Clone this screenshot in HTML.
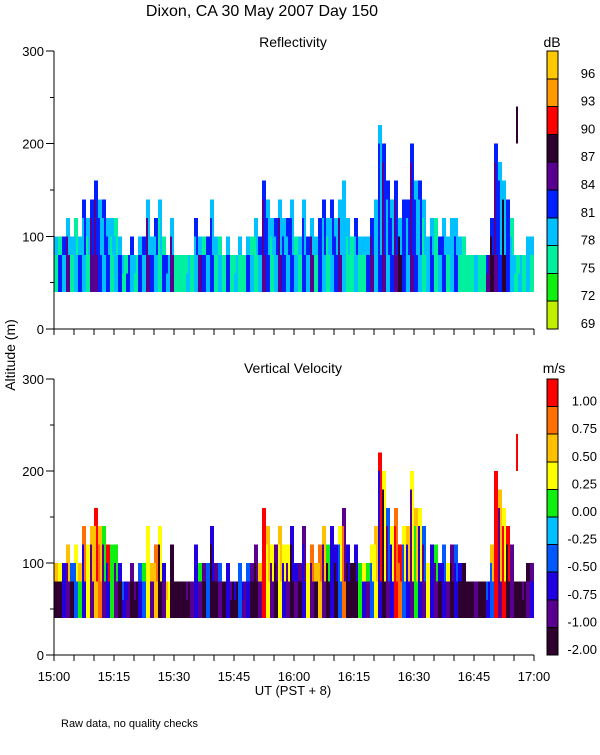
<!DOCTYPE html>
<html><head><meta charset="utf-8"><style>
body{margin:0;background:#fff}
svg text{font-family:"Liberation Sans",sans-serif;fill:#000}
</style></head><body>
<svg id="chart" width="600" height="750" xmlns="http://www.w3.org/2000/svg" shape-rendering="crispEdges">
<text x="262" y="16" font-size="16" text-anchor="middle">Dixon, CA 30 May 2007  Day 150</text>
<text x="293" y="47" font-size="14" text-anchor="middle">Reflectivity</text>
<text x="293" y="373" font-size="14" text-anchor="middle">Vertical Velocity</text>
<text x="552" y="47" font-size="14" text-anchor="middle">dB</text>
<text x="554" y="373" font-size="14" text-anchor="middle">m/s</text>
<text transform="translate(15,355) rotate(-90)" font-size="14" text-anchor="middle">Altitude (m)</text>
<text x="293" y="695" font-size="13" text-anchor="middle">UT  (PST + 8)</text>
<text x="61" y="727" font-size="11">Raw data, no quality checks</text>
<g id="g"></g>
</svg>
<script>
const tops=[100,100,100,120,100,120,100,140,120,140,160,140,140,120,120,120,100,80,80,100,
80,100,100,140,100,120,130,100,80,120,80,80,80,80,80,120,100,100,100,140,
100,100,80,100,80,80,100,80,100,100,120,100,160,140,120,120,140,120,120,140,
100,100,140,100,120,100,120,140,120,140,120,140,160,120,100,120,100,100,100,120,
140,220,200,160,140,160,120,140,140,200,160,160,140,100,120,120,100,120,100,120,
120,100,100,80,80,80,80,80,80,120,200,180,160,140,120,80,80,80,100,100];
const dbLow=[76,82,79,85,76,79,82,79,76,85,85,82,79,82,76,79,82,76,82,79,
76,82,79,85,82,79,76,82,79,85,76,76,76,79,76,79,85,82,79,82,
76,79,76,82,76,79,76,76,82,79,76,79,85,82,76,79,85,82,79,82,
79,76,82,79,85,76,82,79,76,79,82,85,79,76,76,79,76,76,82,85,
79,82,85,79,82,85,88,82,79,85,82,79,76,79,82,76,79,82,76,79,
82,76,76,76,76,79,76,76,85,88,85,82,88,82,79,76,79,76,79,76];
const dbHigh=[79,76,82,79,79,76,79,82,79,82,82,79,82,79,79,76,79,79,76,82,
79,79,82,79,79,82,79,76,82,79,76,76,76,76,76,82,79,76,82,79,
79,76,76,79,76,76,79,76,79,76,79,82,82,79,79,82,79,79,82,79,
76,79,79,82,79,79,82,82,79,82,79,79,79,79,76,82,79,79,79,82,
79,79,82,82,79,82,79,82,82,82,79,82,79,79,79,76,82,79,79,79,
79,79,76,76,76,79,76,76,82,82,82,79,79,82,76,79,76,76,79,79];
const velLow=[-1.5,-1.5,-0.6,-0.9,-1.5,-0.3,0.1,-0.6,0.3,-0.9,0.6,0.9,-0.9,-0.6,0.1,-0.9,-1.5,-0.6,-0.9,-1.5,
-1.5,-0.6,-0.3,0.3,-0.9,0.6,-1.5,-0.9,0.3,-1.5,-1.5,-1.5,-1.5,-1.5,-0.9,-0.6,-0.9,-1.5,-0.3,-1.5,
-1.5,-0.9,-1.5,-0.6,-1.5,-1.5,-0.3,-0.9,-0.6,-1.5,-1.5,-0.9,1.1,0.3,-0.9,-1.5,0.3,-0.6,-0.9,-1.5,
-0.9,-1.5,-0.6,0.3,-0.9,-1.5,0.6,-0.9,-1.5,-0.6,-1.5,-0.3,0.9,-1.5,-1.5,-1.5,0.1,-0.6,-0.9,-0.3,
0.3,-0.6,-1.5,-0.9,-0.6,1.1,0.9,-0.3,-0.6,-0.9,0.1,-0.6,-0.9,0.3,-0.6,-0.9,-1.5,-0.6,-0.9,-1.5,
-0.6,-1.5,-1.5,-1.5,-1.5,-0.9,-1.5,-1.5,-0.6,-0.3,1.1,-0.9,1.1,-1.5,-0.9,-1.5,-1.5,-1.5,-0.9,-0.6];
const velHigh=[0.6,0.3,-0.6,0.6,-0.3,0.3,0.6,0.9,0.3,0.6,1.1,0.6,0.1,1.1,0.1,0.1,-0.6,-0.3,-0.6,-0.9,
-0.9,-0.3,0.1,0.3,0.6,0.9,0.3,-0.6,0.6,-1.5,-1.5,-1.5,-1.5,-0.9,-0.9,-0.6,0.1,-0.9,-0.3,-0.6,
-0.9,-0.3,-1.5,-0.6,-0.9,-0.6,-0.3,-0.6,-0.3,-0.9,-0.9,0.6,1.1,0.6,0.3,-0.9,0.6,0.3,0.3,-0.6,
-0.6,-0.9,-0.9,0.3,0.9,0.6,0.9,0.6,0.1,-0.6,-0.6,0.3,-0.9,-0.6,-1.5,-0.6,0.1,0.3,0.1,0.3,
0.6,1.1,0.3,-0.3,0.3,0.9,1.1,0.3,0.6,0.3,0.6,0.3,-0.3,0.3,-0.6,0.1,-0.6,-0.3,0.3,-0.9,
-0.3,-0.6,-1.5,-1.5,-1.5,-0.9,-1.5,-1.5,-0.3,0.6,1.1,0.6,0.3,1.1,-0.9,-1.5,-1.5,-0.9,-1.5,-0.9];
const spikeMinute=115.5, spikeBottom=200, spikeTop=240, spikeDb=88, spikeVel=1.1;
const dbLabels=["69","72","75","78","81","84","87","90","93","96"];
const dbEdges=[69,72,75,78,81,84,87,90,93,96];
const dbColors=["#c0f000","#10f010","#00f0a0","#00c0ff","#0020ff","#5a0090","#2d0030","#ff0000","#ff9900","#ffc800"];
const velLabels=["-2.00","-1.00","-0.75","-0.50","-0.25","0.00","0.25","0.50","0.75","1.00"];
const velEdges=[-2,-1,-0.75,-0.5,-0.25,0,0.25,0.5,0.75,1];
const velColors=["#2d0030","#5a0090","#2000e0","#0058ff","#00c0ff","#10f010","#ffff00","#ffc000","#ff7000","#ff0000"];
const yTicks=[0,100,200,300];
const xLabels=["15:00","15:15","15:30","15:45","16:00","16:15","16:30","16:45","17:00"];

const NS="http://www.w3.org/2000/svg", G=document.getElementById('g');
const X0=54,X1=534;
const xs=m=>X0+(X1-X0)*m/120;
function mk(t,a,p){const e=document.createElementNS(NS,t);for(const k in a)e.setAttribute(k,a[k]);(p||G).appendChild(e);return e;}
function colorOf(v,edges,cols){let i=0;for(let k=0;k<edges.length;k++)if(v>=edges[k])i=k;return cols[i];}
function panel(y0,yTop,lowArr,highArr,edges,cols,labels,name,sv){
  const ys=h=>y0-(y0-yTop)*h/300;
  for(let m=0;m<120;m++){
    const w=(xs(m+1)-xs(m))/2;
    for(let h=40;h<tops[m];h+=20){
      const top=h+20>=tops[m];
      const vL=top?highArr[m]:lowArr[m];
      const vR=h<80?lowArr[m]:highArr[m];
      const r=mk('rect',{x:xs(m),y:ys(h+20),width:w,height:ys(h)-ys(h+20),fill:colorOf(vL,edges,cols)});
      
      
      const r2=mk('rect',{x:xs(m)+w,y:ys(h+20),width:w,height:ys(h)-ys(h+20),fill:colorOf(vR,edges,cols)});
      
      
    }
  }
  const s=mk('rect',{x:xs(spikeMinute),y:ys(spikeTop),width:2,height:ys(spikeBottom)-ys(spikeTop),fill:colorOf(sv,edges,cols)});
  
  
  mk('line',{x1:X0,y1:yTop,x2:X0,y2:y0,stroke:'#000'});
  mk('line',{x1:X0,y1:y0,x2:X1,y2:y0,stroke:'#000'});
  for(let h=0;h<=300;h+=50){mk('line',{x1:X0-(h%100?4:8),y1:ys(h),x2:X0,y2:ys(h),stroke:'#000'});}
  yTicks.forEach(t=>{const e=mk('text',{x:X0-10,y:ys(t)+5,'font-size':13,'text-anchor':'end'});e.textContent=t;
    
    });
  for(let m=0;m<=120;m+=5)mk('line',{x1:xs(m),y1:y0,x2:xs(m),y2:y0+6,stroke:'#000'});
  const cx=547,cw=11,ch=(y0-yTop)/cols.length;
  cols.forEach((c,i)=>{const r=mk('rect',{x:cx,y:y0-(i+1)*ch,width:cw,height:ch,fill:c,stroke:'#000'});
    
    
    const t=mk('text',{x:name==='velocity'?597:588,y:y0-i*ch-1,'font-size':13,'text-anchor':name==='velocity'?'end':'middle'});t.textContent=labels[i];
    
    });
}
panel(329,51,dbLow,dbHigh,dbEdges,dbColors,dbLabels,'reflectivity',spikeDb);
panel(655,379,velLow,velHigh,velEdges,velColors,velLabels,'velocity',spikeVel);
xLabels.forEach((l,i)=>{const t=mk('text',{x:xs(i*15),y:681,'font-size':13,'text-anchor':'middle'});t.textContent=l;
  
  });
</script>
</body></html>
